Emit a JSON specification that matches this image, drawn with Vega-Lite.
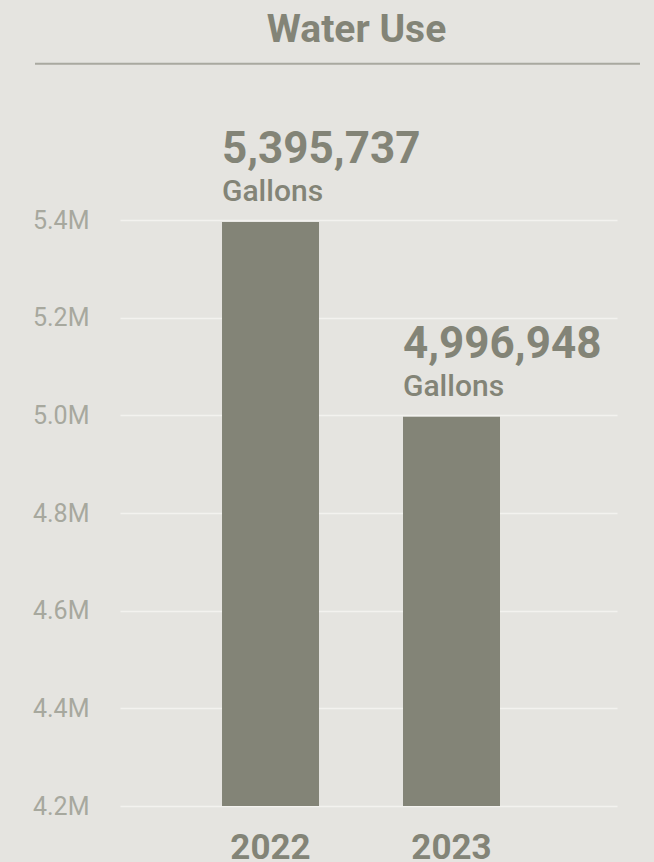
{
  "$schema": "https://vega.github.io/schema/vega-lite/v6.json",
  "width": 497,
  "height": 586,
  "autosize": {"type": "none"},
  "padding": {"left": 120, "top": 220, "right": 37, "bottom": 56},
  "background": "#e5e4e0",
  "config": {"view": {"stroke": null}, "font": "Roboto"},
  "title": {
    "text": "Water Use",
    "fontSize": 39,
    "fontWeight": "bold",
    "color": "#838477",
    "anchor": "middle",
    "frame": "group",
    "dx": -12,
    "dy": 38,
    "offset": 20,
    "baseline": "alphabetic"
  },
  "layer": [
    {
      "data": {"values": [{"year": "2022", "value": 5395737}, {"year": "2023", "value": 4996948}]},
      "layer": [
        {
          "mark": {"type": "bar", "color": "#838477"},
          "encoding": {
            "x": {
              "field": "year",
              "type": "nominal",
              "scale": {"paddingInner": 0.4641, "paddingOuter": 0.605, "align": 0.4658},
              "axis": {
                "title": null,
                "domain": false,
                "ticks": false,
                "grid": false,
                "labelAngle": 0,
                "labelFontSize": 35,
                "labelFontWeight": "bold",
                "labelColor": "#838477",
                "labelPadding": 24
              }
            },
            "y": {
              "field": "value",
              "type": "quantitative",
              "scale": {"domain": [4200000, 5400000], "nice": false, "zero": false},
              "axis": {
                "title": null,
                "values": [4200000, 4400000, 4600000, 4800000, 5000000, 5200000, 5400000],
                "labelExpr": "format(datum.value / 1000000, '.1f') + 'M'",
                "domain": false,
                "ticks": false,
                "labelPadding": 31,
                "labelFontSize": 25,
                "labelFontWeight": "normal",
                "labelColor": "#a7a89e",
                "gridColor": "#f3f2ef",
                "gridWidth": 1.5
              }
            },
            "y2": {"datum": 4200000}
          }
        },
        {
          "mark": {"type": "text", "align": "left", "baseline": "alphabetic", "dy": -59, "fontSize": 44, "fontWeight": "bold", "color": "#838477"},
          "encoding": {
            "x": {"field": "year", "type": "nominal", "bandPosition": 0},
            "y": {"field": "value", "type": "quantitative"},
            "text": {"field": "value", "format": ","}
          }
        },
        {
          "mark": {"type": "text", "align": "left", "baseline": "alphabetic", "dy": -21, "fontSize": 30, "fontWeight": 500, "color": "#838477"},
          "encoding": {
            "x": {"field": "year", "type": "nominal", "bandPosition": 0},
            "y": {"field": "value", "type": "quantitative"},
            "text": {"value": "Gallons"}
          }
        }
      ]
    },
    {
      "data": {"values": [{"pos": 5720000, "start": 0, "end": 1}]},
      "mark": {"type": "rule", "color": "#a9a9a0", "strokeWidth": 2},
      "encoding": {
        "x": {"field": "start", "type": "quantitative", "scale": {"domain": [0.1405, 0.962], "nice": false, "zero": false}, "axis": null},
        "x2": {"field": "end"},
        "y": {"field": "pos", "type": "quantitative"}
      }
    }
  ],
  "resolve": {"scale": {"x": "independent"}}
}
